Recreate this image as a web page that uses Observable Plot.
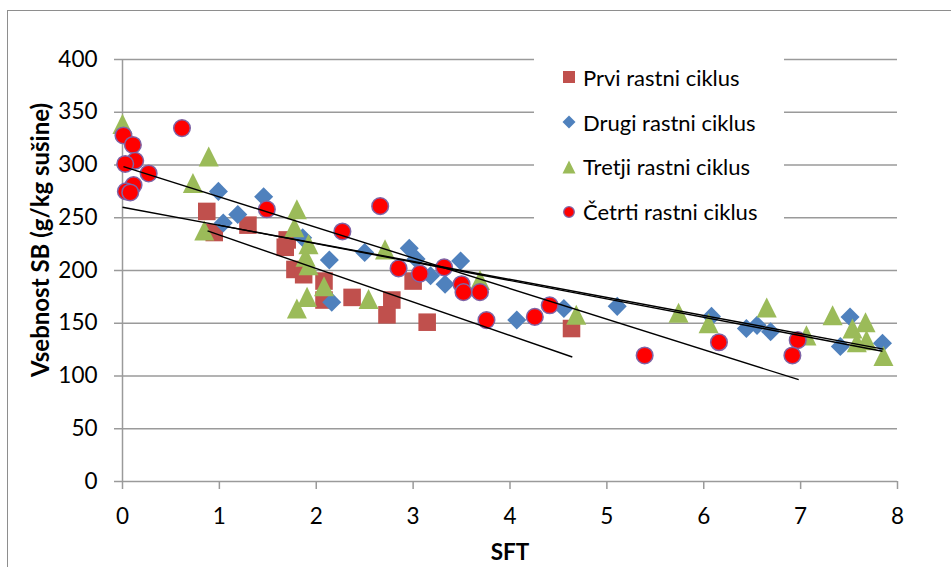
<!DOCTYPE html>
<html>
<head>
<meta charset="utf-8">
<script src="https://cdn.jsdelivr.net/npm/d3@7"></script>
<script src="https://cdn.jsdelivr.net/npm/@observablehq/plot@0.6"></script>
<style>
  html, body { margin: 0; padding: 0; background: #fff; overflow: hidden; }
  #wrap { position: relative; width: 951px; height: 567px; font-family: Lato, "Open Sans", sans-serif; }
  #frame { position: absolute; left: 7px; top: 10px; width: 1000px; height: 600px;
           border-left: 1.5px solid #8e8e8e; border-top: 1.5px solid #8e8e8e; }
  #chart { position: absolute; left: 0; top: 0; }
  #chart g[aria-label="x-axis label"] text { font-weight: bold; }
  #ytitle { position: absolute; left: 40px; top: 240px; transform: translate(-50%, -50%) rotate(-90deg);
            white-space: nowrap; font-weight: bold; font-size: 24px; color: #000; line-height: 1; }
  #legend { position: absolute; left: 534px; top: 48px; width: 250px; height: 188px; background: #fff; }
  .item { position: absolute; left: 0; height: 30px; display: flex; align-items: center;
          font-size: 22px; color: #000; white-space: nowrap; }
  .item svg { margin-left: 28px; margin-right: 7px; }
</style>
</head>
<body>
<div id="wrap">
  <div id="frame"></div>
  <div id="chart"></div>
  <div id="ytitle"></div>
  <div id="legend"></div>
</div>
<script>
// Four growth cycles: SFT (x) against crude protein content SB in g/kg dry matter (y)
const seriesNames = ["Prvi rastni ciklus", "Drugi rastni ciklus", "Tretji rastni ciklus", "Četrti rastni ciklus"];
const seriesColors = ["#C0504D", "#4F81BD", "#9BBB59", "#FF0000"];
const xTitle = "SFT";
const yTitle = "Vsebnost SB (g/kg sušine)";

const prviSFT = [0.87, 0.947, 1.295, 1.70, 1.68, 1.78, 1.87, 2.08, 2.08, 2.37, 2.78, 2.73, 3.0, 3.145, 4.635];
const prviSB  = [256, 236, 243, 229, 222, 201, 196, 190, 172, 174.5, 172, 158, 190, 151, 145];

const drugiSFT = [0.99, 1.04, 1.19, 1.457, 1.86, 2.135, 2.16, 2.50, 2.96, 3.03, 3.18, 3.33, 3.49, 4.07, 4.556, 5.107, 6.08, 6.44, 6.55, 6.69, 7.41, 7.51, 7.845];
const drugiSB  = [275, 245, 253, 270, 231, 210, 170, 217, 221, 211, 195, 187, 209, 153, 164, 166, 156.5, 145, 148, 142, 128, 156, 131];

const tretjiSFT = [0, 0.727, 0.89, 0.844, 1.80, 1.774, 1.92, 1.89, 1.92, 2.08, 1.905, 1.80, 2.54, 2.71, 3.69, 4.684, 5.74, 6.05, 6.65, 7.06, 7.33, 7.535, 7.67, 7.58, 7.68, 7.855];
const tretjiSB  = [339, 283, 308, 238, 258, 241, 225, 213, 205, 185, 175, 164, 173, 220, 191, 158, 160, 150, 165, 138.5, 157.5, 145, 151, 132, 134, 119];

const cetrtiSFT = [0.01, 0.107, 0.131, 0.028, 0.27, 0.114, 0.035, 0.08, 0.614, 1.49, 2.27, 2.66, 2.85, 3.07, 3.32, 3.50, 3.52, 3.69, 3.757, 4.256, 4.41, 5.39, 6.157, 6.97, 6.915];
const cetrtiSB  = [328, 319, 304, 301, 292, 281, 275, 274, 335, 258, 237, 261, 202, 197, 203, 187, 179.5, 179.5, 153, 156, 167, 119.5, 132, 134, 119.5];

// Linear trend lines, one per cycle, over each cycle's SFT range
const trendFromSFT = [0.878, 0.99, 0, 0.01];
const trendFromSB  = [237.5, 243, 260, 298.5];
const trendToSFT   = [4.643, 7.845, 7.855, 6.98];
const trendToSB    = [118, 123.5, 125.5, 96.5];

const xTicks = [0, 1, 2, 3, 4, 5, 6, 7, 8];
const yTicks = [0, 50, 100, 150, 200, 250, 300, 350, 400];

const rows = (xs, ys) => xs.map((x, i) => ({x, y: ys[i]}));
const prvi = rows(prviSFT, prviSB);
const drugi = rows(drugiSFT, drugiSB);
const tretji = rows(tretjiSFT, tretjiSB);
const cetrti = rows(cetrtiSFT, cetrtiSB);
const trends = seriesNames.map((name, i) => ({
  name, x1: trendFromSFT[i], y1: trendFromSB[i], x2: trendToSFT[i], y2: trendToSB[i]
}));

// Marker shapes; size is the marker area in px²
const squareSym = {draw(ctx, size) { const h = Math.sqrt(size) / 2; ctx.rect(-h, -h, 2 * h, 2 * h); }};
const diamondSym = {draw(ctx, size) { const h = Math.sqrt(size / 2);
  ctx.moveTo(0, -h); ctx.lineTo(h, 0); ctx.lineTo(0, h); ctx.lineTo(-h, 0); ctx.closePath(); }};
const triangleSym = {draw(ctx, size) { const h = Math.sqrt(2 * size) / 2;
  ctx.moveTo(0, -h); ctx.lineTo(h, h); ctx.lineTo(-h, h); ctx.closePath(); }};

const gridColor = "#9a9a9a";

const chart = Plot.plot({
  width: 951,
  height: 567,
  marginLeft: 122,
  marginRight: 54,
  marginTop: 59,
  marginBottom: 86,
  style: {fontFamily: "Lato, 'Open Sans', sans-serif", fontSize: "22.5px", background: "transparent", color: "#000", overflow: "visible"},
  x: {domain: [0, 8]},
  y: {domain: [0, 400]},
  marks: [
    Plot.gridY(yTicks.filter((v) => v > 0), {stroke: gridColor, strokeOpacity: 1, strokeWidth: 1.5}),
    Plot.ruleY([0], {stroke: gridColor, strokeWidth: 1.5}),
    Plot.ruleX([0], {stroke: gridColor, strokeWidth: 1.5}),
    Plot.axisX(xTicks, {tickSize: 8, tickPadding: 19, stroke: gridColor, strokeWidth: 1.5, fill: "#000",
      label: xTitle, labelAnchor: "center", labelArrow: "none", labelOffset: 78}),
    Plot.axisY(yTicks, {tickSize: 8, tickPadding: 17, stroke: gridColor, strokeWidth: 1.5, fill: "#000", label: null}),
    Plot.dot(prvi, {x: "x", y: "y", symbol: squareSym, r: 9.9, fill: seriesColors[0], stroke: "none"}),
    Plot.dot(drugi, {x: "x", y: "y", symbol: diamondSym, r: 7.6, fill: seriesColors[1], stroke: "none"}),
    Plot.dot(tretji, {x: "x", y: "y", symbol: triangleSym, r: 8.0, fill: seriesColors[2], stroke: "none"}),
    Plot.dot(cetrti, {x: "x", y: "y", r: 8.3, fill: seriesColors[3], stroke: "#7f64a6", strokeWidth: 1.5}),
    Plot.link(trends, {x1: "x1", y1: "y1", x2: "x2", y2: "y2", stroke: "#000", strokeWidth: 1.4})
  ]
});
document.getElementById("chart").appendChild(chart);
document.getElementById("ytitle").textContent = yTitle;

// Legend, one row per cycle
const legendMarkers = [
  `<rect x="1" y="1" width="12" height="12" fill="${seriesColors[0]}"/>`,
  `<polygon points="7,0.5 13.5,7 7,13.5 0.5,7" fill="${seriesColors[1]}"/>`,
  `<polygon points="7,0.5 13.5,13.5 0.5,13.5" fill="${seriesColors[2]}"/>`,
  `<circle cx="7" cy="7" r="5.3" fill="${seriesColors[3]}" stroke="#7f64a6" stroke-width="1.3"/>`
];
const legend = document.getElementById("legend");
seriesNames.forEach((name, i) => {
  const item = document.createElement("div");
  item.className = "item";
  item.style.top = (29.3 + i * 44.8 - 15) + "px";
  item.innerHTML = `<svg width="14" height="14" viewBox="0 0 14 14">${legendMarkers[i]}</svg><span>${name}</span>`;
  legend.appendChild(item);
});
</script>
</body>
</html>
